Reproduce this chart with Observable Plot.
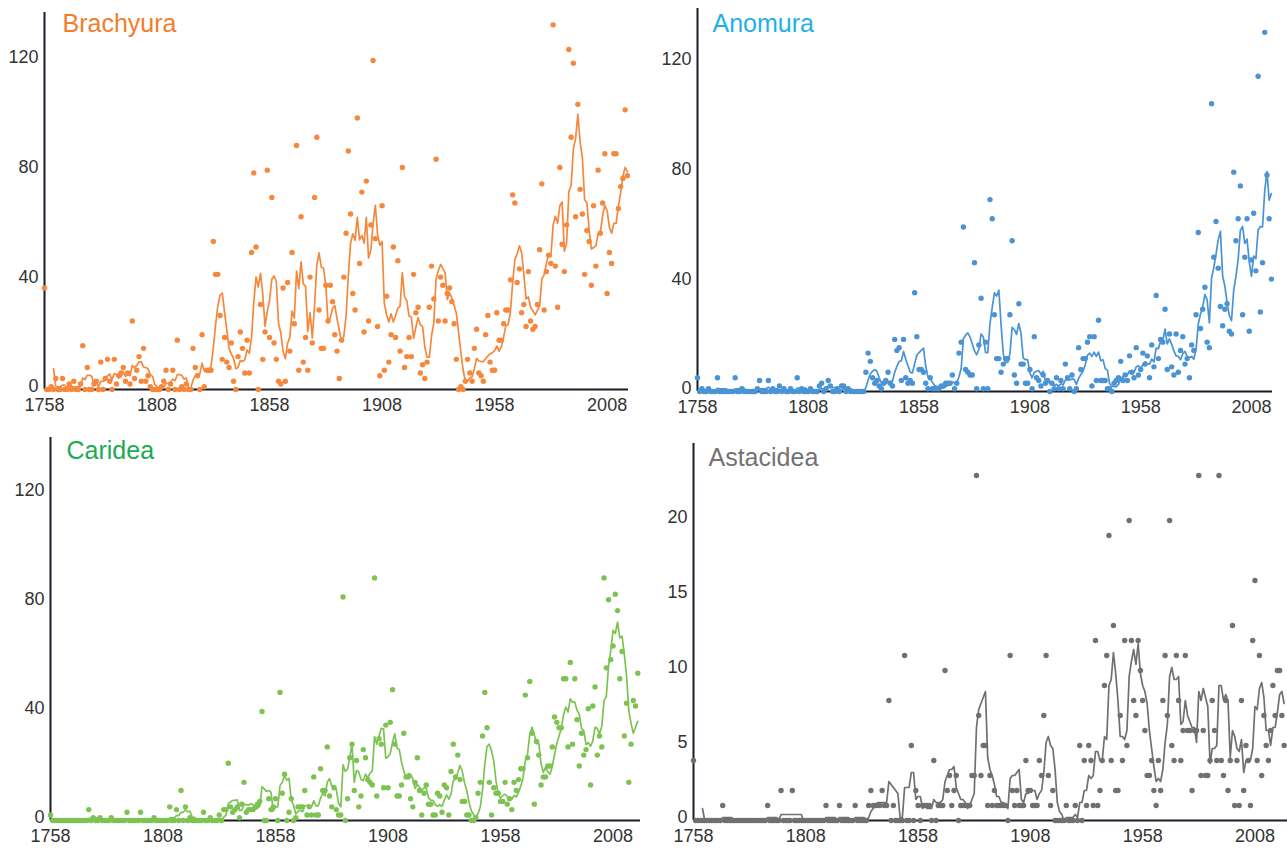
<!DOCTYPE html>
<html>
<head>
<meta charset="utf-8">
<script src="https://cdn.jsdelivr.net/npm/d3@7"></script>
<script src="https://cdn.jsdelivr.net/npm/@observablehq/plot@0.6"></script>
<style>
  html, body { margin: 0; padding: 0; background: #fff; }
  #wrap { position: relative; width: 1287px; height: 848px; overflow: hidden; }
  #wrap > svg, #wrap > figure { position: absolute; margin: 0; }
</style>
</head>
<body>
<div id="wrap"></div>
<script>
// ---- Data: annual counts, first year 1758 ----
const startYear = 1758;
const xTickYears = [1758, 1808, 1858, 1908, 1958, 2008];
const yTicksCount = [0, 40, 80, 120];
const yTicksAstacidea = [0, 5, 10, 15, 20];

const brachyura = [
  37,0,0,1,0,4,0,0,4,0,
  0,2,0,3,0,0,2,16,0,8,
  0,0,2,3,0,10,0,4,11,3,
  0,11,2,5,6,8,3,6,2,25,
  4,7,12,3,15,3,5,1,0,0,
  0,0,1,3,7,0,2,7,0,18,
  0,1,0,2,0,0,15,8,5,0,
  20,1,7,7,7,54,42,42,27,11,
  19,10,8,17,3,0,12,21,15,6,
  18,6,50,79,52,0,31,11,21,80,
  19,70,17,11,3,2,37,3,39,14,
  50,24,89,7,63,10,19,7,41,17,
  70,92,29,15,15,38,25,38,32,20,
  14,4,18,41,57,87,64,35,29,99,
  46,72,21,76,25,60,120,55,23,5,
  67,7,34,10,20,52,19,47,14,81,
  8,12,19,12,42,28,30,6,9,4,
  10,30,45,33,84,25,41,38,25,35,
  37,32,24,11,0,1,0,3,11,6,
  3,15,22,6,5,3,20,27,10,7,
  7,28,18,18,24,29,29,40,71,68,
  39,44,28,31,23,43,25,22,23,31,
  51,75,29,43,49,46,133,45,30,81,
  53,43,60,124,92,119,63,104,73,64,
  42,58,54,38,67,45,80,57,68,86,
  35,50,46,86,86,66,74,77,102,78
];

const anomura = [
  5,0,1,0,0,1,0,0,0,5,
  0,0,0,0,0,0,0,5,0,0,
  1,0,0,0,0,0,0,1,4,0,
  0,0,4,0,1,0,0,2,0,1,
  0,0,1,0,0,5,0,1,0,0,
  0,1,0,0,0,2,3,0,1,4,
  2,0,0,1,0,2,2,0,1,0,
  0,0,0,0,0,0,7,14,11,5,
  3,4,2,1,3,4,7,3,2,19,
  15,16,4,19,5,3,4,3,36,20,
  8,8,7,3,1,5,1,1,1,1,
  2,2,3,3,3,6,1,3,14,18,
  60,8,7,6,6,47,1,17,34,1,
  18,1,70,63,28,12,12,7,10,12,
  12,28,55,6,3,32,10,10,3,3,
  8,1,20,5,4,2,6,3,4,0,
  3,1,5,1,4,1,10,5,1,6,
  0,1,16,8,12,12,18,20,2,20,
  4,26,4,4,4,1,1,0,3,4,
  5,11,4,6,4,13,7,5,16,6,
  8,14,10,13,5,17,9,35,12,19,
  18,30,8,21,9,6,21,7,15,20,
  10,12,5,17,15,28,58,23,30,38,
  18,16,105,49,62,45,31,24,30,32,
  22,21,80,55,63,75,28,49,63,22,
  48,65,44,115,29,47,131,79,63,41
];

const caridea = [
  2,0,0,0,0,0,0,0,0,0,
  0,0,0,0,0,0,0,4,0,1,
  0,0,1,0,0,0,0,1,0,0,
  0,0,0,0,3,0,0,0,0,0,
  3,0,0,0,0,0,1,0,0,0,
  0,0,0,5,0,0,4,0,11,0,
  5,0,1,0,0,0,0,0,3,0,
  0,1,0,0,0,2,0,4,4,21,
  5,3,4,5,1,6,14,3,4,4,
  4,5,6,7,40,0,0,8,4,5,
  8,0,47,10,17,0,3,8,0,1,
  5,5,5,11,2,5,2,16,2,2,
  19,11,11,27,9,5,12,4,2,2,
  82,0,8,23,28,11,22,5,9,26,
  23,15,14,13,89,9,30,28,12,35,
  12,36,48,28,9,9,13,32,16,16,
  8,5,14,23,11,2,10,13,6,6,
  2,2,10,9,3,13,12,2,18,28,
  16,24,15,7,7,2,2,0,0,1,
  10,14,31,47,34,14,2,12,10,10,
  7,7,14,6,8,4,14,11,15,19,
  19,46,23,51,32,6,29,24,13,16,
  16,20,20,27,38,36,34,34,52,52,
  27,58,28,52,37,20,32,24,26,41,
  13,42,49,24,31,27,89,56,81,59,
  64,83,77,52,62,31,43,14,28,44,
  42,54
];

const astacidea = [
  4,0,0,0,0,0,0,0,0,0,
  0,0,0,1,0,0,0,0,0,0,
  0,0,0,0,0,0,0,0,0,0,
  0,0,0,1,0,0,0,0,0,2,
  0,0,0,0,2,0,0,0,0,0,
  0,0,0,0,0,0,0,0,0,1,
  0,0,0,0,0,1,0,0,0,0,
  0,0,1,0,0,0,0,0,1,2,
  1,1,1,1,2,1,1,8,0,1,
  0,0,0,0,11,0,0,5,0,2,
  1,0,1,1,1,1,0,4,0,1,
  1,1,10,2,3,1,2,3,0,1,
  1,1,1,1,3,3,23,7,3,5,
  5,1,3,1,2,1,1,1,1,1,
  0,11,2,1,2,1,1,1,4,2,
  2,1,1,1,4,3,7,11,3,1,
  2,0,0,0,0,0,1,0,0,0,
  1,0,5,0,4,1,5,4,1,12,
  1,2,4,9,11,19,4,13,2,2,
  7,4,12,5,20,12,8,7,12,10,
  8,6,3,3,4,2,1,4,2,8,
  11,7,20,5,4,11,8,4,6,11,
  6,6,2,6,6,23,3,6,3,3,
  4,8,6,4,23,4,3,8,2,4,
  13,1,4,1,8,2,5,4,1,12,
  16,4,11,3,7,5,4,6,9,7,
  10,10,7,5
];

// ---- Panels ----
const panels = [
  {title: "Brachyura", values: brachyura, color: "#f5883c", titleColor: "#f47d2c",
   left: 0, top: 0, width: 640, height: 420, mL: 44, mR: 12, mT: 12, mB: 31,
   xEnd: 2017.5, yMax: 137.5, yTicks: yTicksCount, tdx: 18, tdy: 2},
  {title: "Anomura", values: anomura, color: "#4a93d4", titleColor: "#1fb0ea",
   left: 640, top: 0, width: 647, height: 420, mL: 57, mR: 15, mT: 8, mB: 29,
   xEnd: 2017.5, yMax: 139.7, yTicks: yTicksCount, tdx: 15, tdy: 6},
  {title: "Caridea", values: caridea, color: "#7dc352", titleColor: "#1daa50",
   left: 0, top: 420, width: 640, height: 428, mL: 50, mR: 0, mT: 17, mB: 28,
   xEnd: 2020.2, yMax: 140.5, yTicks: yTicksCount, tdx: 16, tdy: 4},
  {title: "Astacidea", values: astacidea, color: "#707070", titleColor: "#737373",
   left: 640, top: 420, width: 647, height: 428, mL: 53, mR: 0, mT: 23, mB: 28,
   xEnd: 2022.5, yMax: 25.13, yTicks: yTicksAstacidea, tdx: 15, tdy: 5}
];

const wrap = document.getElementById("wrap");
const axisColor = "#1a1a28";

for (const p of panels) {
  const data = p.values.map((v, i) => ({year: startYear + i, value: v}));
  const chart = Plot.plot({
    width: p.width,
    height: p.height,
    marginLeft: p.mL,
    marginRight: p.mR,
    marginTop: p.mT,
    marginBottom: p.mB,
    style: {fontFamily: "'Liberation Sans', Arial, sans-serif", fontSize: "18px", color: "#333", background: "transparent", overflow: "visible"},
    x: {domain: [startYear, p.xEnd], label: null},
    y: {domain: [0, p.yMax], label: null},
    marks: [
      Plot.axisX({ticks: xTickYears, tickSize: 0, tickPadding: 9, tickFormat: d => String(d), fill: "#333", fontSize: 18, label: null}),
      Plot.axisY({ticks: p.yTicks, tickSize: 0, tickPadding: 6, dy: -3, fill: "#333", fontSize: 18, label: null}),
      Plot.ruleY([0], {stroke: axisColor, strokeWidth: 2}),
      Plot.ruleX([startYear], {y1: 0, y2: p.yMax, stroke: axisColor, strokeWidth: 2}),
      Plot.lineY(data, Plot.windowY({k: 5, anchor: "end", strict: true}, {x: "year", y: "value", stroke: p.color, strokeWidth: 1.7})),
      Plot.dot(data, {x: "year", y: "value", r: 2.7, fill: p.color}),
      Plot.text([p.title], {frameAnchor: "top-left", textAnchor: "start", lineAnchor: "top", dx: p.tdx, dy: p.tdy, fill: p.titleColor, fontSize: 25})
    ]
  });
  chart.style.left = p.left + "px";
  chart.style.top = p.top + "px";
  wrap.appendChild(chart);
}
</script>
</body>
</html>
